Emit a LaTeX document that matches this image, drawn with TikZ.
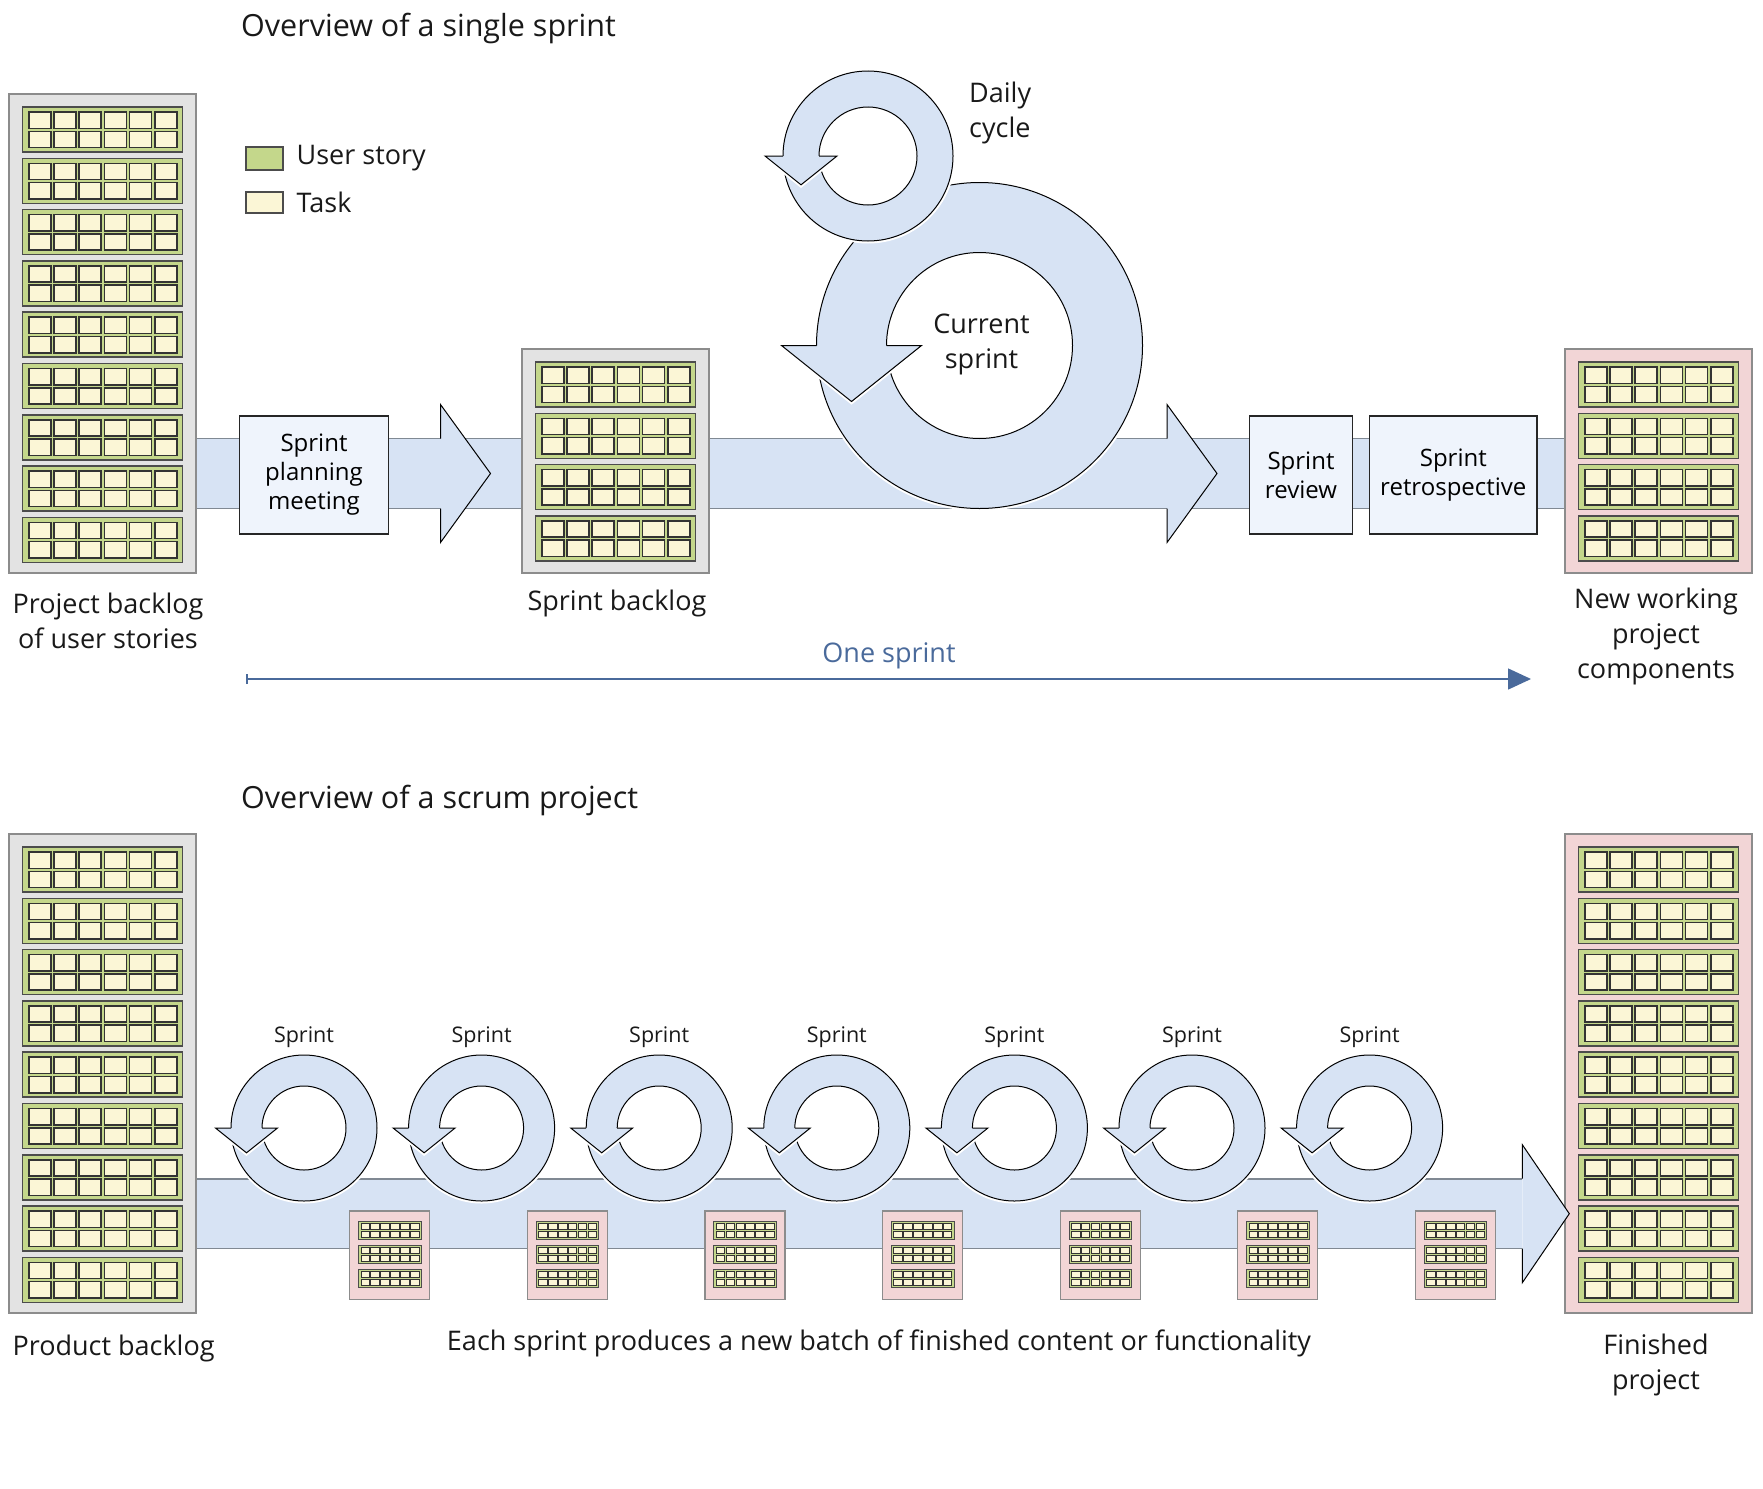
\documentclass[tikz,border=0pt]{standalone}
\usepackage{fontspec}
\setmainfont{Open Sans}
\usetikzlibrary{calc,positioning,arrows.meta}
\pgfdeclarelayer{background}
\pgfsetlayers{background,main}

\definecolor{bandblue}{HTML}{D7E3F4}
\definecolor{boxblue}{HTML}{EFF4FC}
\definecolor{stackgray}{HTML}{E3E3E3}
\definecolor{stackpink}{HTML}{F2D5D6}
\definecolor{storygreen}{HTML}{C4D78B}
\definecolor{taskyellow}{HTML}{FBF6D6}
\definecolor{edgegray}{HTML}{808993}
\definecolor{sprintblue}{HTML}{4A6A9B}

% one user story with its tasks
\newcommand{\storyrow}[3]{%
  \begin{scope}[shift={#1}, scale=#2]
    \draw[story, line width=#3] (0,0) rectangle (160,45);
    \foreach \ci in {0,...,5}
      \foreach \cj in {0,1}
        \draw[task, line width=#3] (6.3+25.2*\ci,5+19.3*\cj) rectangle ++(22,16.3);
  \end{scope}}

% circular arrow: centre x, centre y, outer radius, inner radius
\newcommand{\loopring}[4]{%
  \pgfmathsetmacro{\rw}{#3-#4}
  \pgfmathsetmacro{\hx}{#1-(#3+#4)/2}
  \draw[white, line width=5] (#1,#2) circle[radius=#3];
  \filldraw[ringline, fill=bandblue, even odd rule] (#1,#2) circle[radius=#3] (#1,#2) circle[radius=#4];
  \draw[white, line width=5] (\hx-\rw,#2) -- (\hx,#2+0.8*\rw) -- (\hx+\rw,#2);
  \fill[bandblue] (\hx-\rw,#2) -- (\hx,#2+0.8*\rw) -- (\hx+\rw,#2) -- cycle;
  \draw[ringline] (#1-#3,#2) -- (\hx-\rw,#2) -- (\hx,#2+0.8*\rw) -- (\hx+\rw,#2) -- (#1-#4,#2);}

% head of the wide arrow: base x, centre y, length
\newcommand{\blockhead}[3]{%
  \fill[bandblue] (#1,#2-69) -- (#1+#3,#2) -- (#1,#2+69) -- cycle;
  \draw[ringline] (#1,#2-35) -- (#1,#2-69) -- (#1+#3,#2) -- (#1,#2+69) -- (#1,#2+35);}

\tikzset{
  backlog/.style={draw=black!45, fill=stackgray, line width=1.5, outer sep=0, minimum width=187, anchor=north west},
  done/.style={backlog, fill=stackpink},
  story/.style={draw=black!70, fill=storygreen},
  task/.style={draw=black!80, fill=taskyellow},
  stepbox/.style={draw=black!85, fill=boxblue, line width=1.2, align=center, outer sep=0, minimum height=118,
    font=\fontsize{24}{29}\selectfont},
  ringline/.style={draw=black, line width=1},
  bandedge/.style={edgegray, line width=1.5},
  lbl/.style={inner sep=0, align=center, text=black!90, font=\fontsize{27}{35}\selectfont},
  title/.style={inner sep=0, anchor=west, text=black!90, font=\fontsize{30.5}{36}\selectfont},
  smalllbl/.style={inner sep=0, text=black!90, font=\fontsize{21.5}{24}\selectfont},
}

\begin{document}
\begin{tikzpicture}[x=1pt, y=-1pt]
\useasboundingbox (0,0) rectangle (1763,1488);

%% single sprint
\node[title] (ttl1) at (241,28) {Overview of a single sprint};

\node[backlog, minimum height=479] (projbl) at (9,94) {};
\foreach \i in {0,...,8} \storyrow{($(projbl.north west)+(13.5,13+51.3*\i)$)}{1}{1.5};
\node[backlog, minimum height=224] (sprbl) at (522,349) {};
\foreach \i in {0,...,3} \storyrow{($(sprbl.north west)+(13.5,13+51.3*\i)$)}{1}{1.5};
\node[done, minimum height=224] (newwork) at (1565,349) {};
\foreach \i in {0,...,3} \storyrow{($(newwork.north west)+(13.5,13+51.3*\i)$)}{1}{1.5};

\coordinate (bt1) at (0,438.5);
\coordinate (bb1) at (0,508.5);
\begin{pgfonlayer}{background}
  \fill[bandblue] (projbl.east |- bt1) rectangle (newwork.west |- bb1);
  \draw[bandedge] (projbl.east |- bt1) -- (newwork.west |- bt1)
                  (projbl.east |- bb1) -- (newwork.west |- bb1);
\end{pgfonlayer}

\node[draw=black!70, fill=storygreen, line width=1.5, minimum width=37, minimum height=23, anchor=north west] (lgstory) at (245,146) {};
\node[lbl, right=13pt of lgstory] (lgstorytxt) {User story};
\node[draw=black!70, fill=taskyellow, line width=1.5, minimum width=37, minimum height=21, anchor=north west] (lgtask) at (245,191) {};
\node[lbl, right=13pt of lgtask] (lgtasktxt) {Task};

\node[stepbox, minimum width=148.5] (plan) at (314,475) {Sprint\\planning\\meeting};
\blockhead{440.5}{473.5}{50}
\blockhead{1167}{473.5}{50}
\node[stepbox, minimum width=103.6] (review) at (1301,475) {Sprint\\review};
\node[stepbox, minimum width=167.5] (retro) at (1453.3,475) {Sprint\\retrospective};

\loopring{979.5}{345.5}{163}{93}
\node[lbl] (curtxt) at (981.5,344) {Current\\sprint};
\loopring{868}{156}{85}{49}
\node[lbl, anchor=west, align=left] (dailytxt) at (969,113) {Daily\\cycle};

\node[lbl] (projbltxt) at (108,621) {Project backlog\\of user stories};
\node[lbl] (sprbltxt) at (617,603) {Sprint backlog};
\node[lbl] (newworktxt) at (1656,636) {New working\\project\\components};

\coordinate (os0) at (246,679);
\coordinate (os1) at (1531,679);
\draw[sprintblue, line width=1.5, {Bar[width=10pt]}-{Triangle[length=23pt, width=21pt]}] (os0) -- (os1);
\node[lbl, text=sprintblue] (ostxt) at (889,656) {One sprint};

%% whole project
\node[title] (ttl2) at (241,800) {Overview of a scrum project};

\node[backlog, minimum height=479] (prodbl) at (9,834) {};
\foreach \i in {0,...,8} \storyrow{($(prodbl.north west)+(13.5,13+51.3*\i)$)}{1}{1.5};
\node[done, minimum height=479] (finished) at (1565,834) {};
\foreach \i in {0,...,8} \storyrow{($(finished.north west)+(13.5,13+51.3*\i)$)}{1}{1.5};

\coordinate (bt2) at (0,1179);
\coordinate (bb2) at (0,1248.5);
\coordinate (hb2) at (1522.3,0);
\begin{pgfonlayer}{background}
  \fill[bandblue] (prodbl.east |- bt2) rectangle (hb2 |- bb2);
  \draw[bandedge] (prodbl.east |- bt2) -- (hb2 |- bt2)
                  (prodbl.east |- bb2) -- (hb2 |- bb2);
\end{pgfonlayer}
\blockhead{1522.3}{1213.7}{47}

\foreach \k in {0,...,6} {
  \pgfmathsetmacro{\cx}{304+177.6*\k}
  \loopring{\cx}{1128}{73}{42}
  \node[smalllbl] (sprlbl\k) at (\cx,1037) {Sprint};
  \node[done, minimum width=80, minimum height=88.6, line width=1.2] (inc\k) at (\cx+45.7,1211) {};
  \foreach \i in {0,1,2} \storyrow{($(inc\k.north west)+(8.7,10.3+24*\i)$)}{0.392}{0.6};
}

\node[lbl] (prodbltxt) at (113.6,1348) {Product backlog};
\node[lbl] (eachtxt) at (879,1343) {Each sprint produces a new batch of finished content or functionality};
\node[lbl] (finishedtxt) at (1656,1365) {Finished\\project};
\end{tikzpicture}
\end{document}
